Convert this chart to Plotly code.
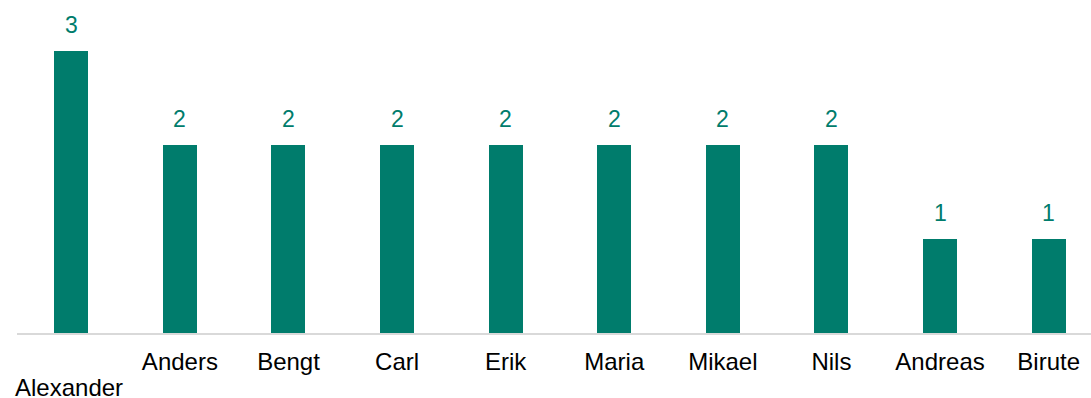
import plotly.graph_objects as go

names = ["Alexander", "Anders", "Bengt", "Carl", "Erik", "Maria", "Mikael", "Nils", "Andreas", "Birute"]
counts = [3, 2, 2, 2, 2, 2, 2, 2, 1, 1]
# Alexander is too long for its slot, so it is dropped to a second row below
tick_text = ["", "Anders", "Bengt", "Carl", "Erik", "Maria", "Mikael", "Nils", "Andreas", "Birute"]

teal = "#007C6C"
font = "Liberation Sans, Arial, sans-serif"

fig = go.Figure()
fig.add_trace(
    go.Bar(
        x=list(range(len(names))),
        y=counts,
        width=0.313,
        marker=dict(color=teal, line=dict(width=0)),
        hovertext=names,
    )
)

# value labels above bars
for i, v in enumerate(counts):
    fig.add_annotation(
        x=i,
        y=v,
        text=str(v),
        showarrow=False,
        yanchor="middle",
        yshift=26,
        font=dict(family=font, size=23, color=teal),
    )

# staggered first category label
fig.add_annotation(
    x=0,
    y=0,
    text=names[0],
    showarrow=False,
    yanchor="middle",
    yshift=-54,
    xshift=-2,
    font=dict(family=font, size=24, color="#000000"),
)

fig.update_xaxes(
    tickmode="array",
    tickvals=list(range(len(names))),
    ticktext=tick_text,
    range=[-0.5, 9.39],
    automargin=False,
    showline=True,
    linecolor="#D9D9D9",
    linewidth=1.5,
    ticks="",
    ticklabelstandoff=6,
    showgrid=False,
    zeroline=False,
    tickfont=dict(family=font, size=24, color="#000000"),
)
fig.update_yaxes(
    range=[0, 3.436],
    automargin=False,
    showgrid=False,
    zeroline=False,
    showticklabels=False,
)

fig.update_layout(
    width=1091,
    height=398,
    margin=dict(l=16.7, r=0, t=10, b=65),
    plot_bgcolor="white",
    paper_bgcolor="white",
    showlegend=False,
    bargap=0,
)

# drop the default page margin so the figure sits at the window corner
fig.write_html(
    "out.html",
    config={"displayModeBar": False},
    post_script="document.body.style.margin='0';",
)
